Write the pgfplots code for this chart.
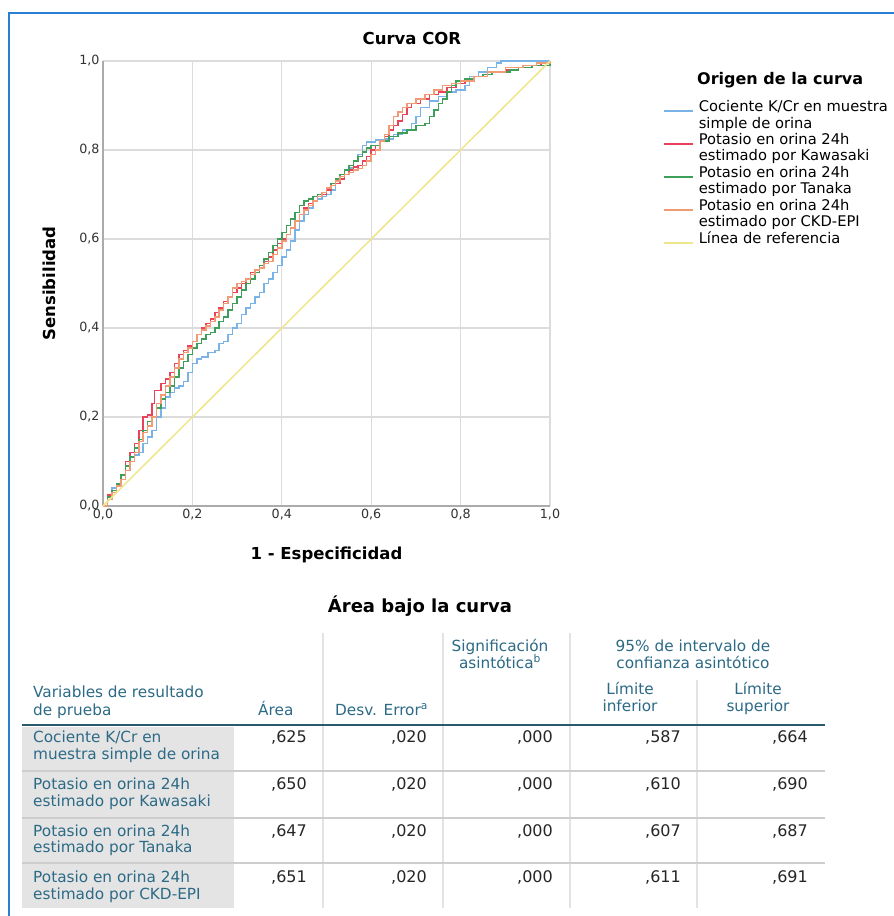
\documentclass[border=0pt]{standalone}
\usepackage{fontspec}
\setmainfont{DejaVu Sans}
\usepackage{pgfplots}
\usepackage{pgfplotstable}
\pgfplotsset{compat=1.18}
\definecolor{cblue}{HTML}{7AB3E8}
\definecolor{cred}{HTML}{E8435A}
\definecolor{cgreen}{HTML}{3E9F5A}
\definecolor{corange}{HTML}{F29A74}
\definecolor{cyellow}{HTML}{EFE68A}
\definecolor{gridgray}{HTML}{DCDCDC}
\definecolor{axgray}{HTML}{ABABAB}
\definecolor{framecol}{HTML}{2A7FD4}
\definecolor{teal}{HTML}{2C6A86}
\definecolor{tline}{HTML}{2A5A6E}
\definecolor{cellgray}{HTML}{E4E4E4}
\definecolor{sepgray}{HTML}{CDCDCD}
\definecolor{vgray}{HTML}{E3E3E3}
\newcommand\fs[2]{\fontsize{#1}{#2}\selectfont}

\pgfplotstableread{
x y
0 0
0.01 0.02
0.02 0.04
0.03 0.05
0.04 0.07
0.05 0.09
0.06 0.10
0.07 0.115
0.08 0.12
0.09 0.14
0.10 0.155
0.11 0.17
0.12 0.20
0.13 0.22
0.14 0.245
0.15 0.255
0.16 0.265
0.17 0.27
0.18 0.28
0.19 0.30
0.20 0.32
0.21 0.33
0.22 0.335
0.235 0.345
0.25 0.35
0.26 0.365
0.27 0.37
0.28 0.385
0.29 0.40
0.30 0.41
0.31 0.43
0.32 0.445
0.33 0.455
0.34 0.47
0.35 0.48
0.36 0.50
0.37 0.51
0.38 0.525
0.39 0.54
0.40 0.56
0.41 0.575
0.42 0.595
0.43 0.62
0.44 0.64
0.45 0.655
0.46 0.67
0.47 0.685
0.48 0.69
0.49 0.695
0.50 0.70
0.51 0.71
0.52 0.725
0.53 0.735
0.54 0.745
0.55 0.76
0.56 0.775
0.57 0.79
0.58 0.81
0.59 0.818
0.61 0.822
0.63 0.825
0.65 0.835
0.67 0.845
0.69 0.86
0.70 0.875
0.71 0.895
0.73 0.91
0.75 0.92
0.77 0.93
0.79 0.935
0.81 0.945
0.82 0.965
0.84 0.975
0.86 0.985
0.88 0.995
0.89 1.0
1.0 1.0
}\blue

\pgfplotstableread{
x y
0 0
0.01 0.025
0.02 0.035
0.03 0.05
0.04 0.07
0.05 0.10
0.06 0.12
0.07 0.14
0.08 0.17
0.09 0.20
0.10 0.205
0.11 0.23
0.115 0.26
0.13 0.275
0.14 0.285
0.15 0.30
0.16 0.32
0.17 0.34
0.18 0.35
0.19 0.36
0.20 0.37
0.21 0.385
0.22 0.40
0.23 0.41
0.24 0.42
0.25 0.435
0.26 0.445
0.27 0.46
0.28 0.47
0.29 0.48
0.30 0.49
0.31 0.50
0.32 0.51
0.33 0.525
0.34 0.53
0.35 0.54
0.36 0.55
0.37 0.56
0.38 0.575
0.39 0.59
0.40 0.60
0.41 0.61
0.42 0.625
0.43 0.64
0.44 0.655
0.45 0.67
0.46 0.68
0.47 0.685
0.48 0.695
0.49 0.70
0.50 0.71
0.51 0.72
0.52 0.725
0.53 0.735
0.54 0.745
0.55 0.755
0.56 0.762
0.57 0.765
0.58 0.775
0.59 0.785
0.60 0.80
0.61 0.81
0.62 0.82
0.63 0.83
0.64 0.845
0.65 0.855
0.66 0.865
0.67 0.88
0.68 0.895
0.69 0.905
0.71 0.915
0.73 0.925
0.75 0.93
0.77 0.94
0.79 0.95
0.81 0.955
0.83 0.965
0.85 0.97
0.87 0.975
0.90 0.98
0.93 0.985
0.96 0.99
0.98 0.995
1.0 1.0
}\red

\pgfplotstableread{
x y
0 0
0.01 0.02
0.02 0.035
0.03 0.05
0.04 0.07
0.05 0.09
0.06 0.11
0.07 0.13
0.08 0.15
0.09 0.17
0.10 0.19
0.11 0.20
0.12 0.22
0.13 0.24
0.14 0.255
0.15 0.27
0.16 0.29
0.17 0.31
0.18 0.325
0.19 0.34
0.20 0.355
0.21 0.365
0.22 0.375
0.23 0.385
0.24 0.39
0.25 0.40
0.26 0.415
0.27 0.425
0.28 0.44
0.29 0.455
0.30 0.47
0.31 0.485
0.32 0.50
0.33 0.51
0.34 0.525
0.35 0.54
0.36 0.555
0.37 0.57
0.38 0.585
0.39 0.60
0.40 0.615
0.41 0.63
0.42 0.645
0.43 0.66
0.44 0.675
0.45 0.685
0.46 0.69
0.47 0.695
0.48 0.70
0.49 0.705
0.50 0.715
0.51 0.725
0.52 0.735
0.53 0.745
0.54 0.755
0.55 0.765
0.56 0.775
0.57 0.785
0.58 0.795
0.59 0.805
0.60 0.81
0.62 0.82
0.64 0.83
0.66 0.838
0.68 0.845
0.70 0.855
0.72 0.86
0.73 0.875
0.74 0.89
0.75 0.905
0.76 0.915
0.77 0.93
0.78 0.945
0.79 0.955
0.81 0.96
0.83 0.965
0.85 0.97
0.87 0.975
0.89 0.975
0.91 0.98
0.93 0.985
0.96 0.99
1.0 1.0
}\green

\pgfplotstableread{
x y
0 0
0.01 0.015
0.02 0.03
0.03 0.045
0.04 0.06
0.05 0.08
0.06 0.10
0.07 0.12
0.08 0.145
0.09 0.165
0.10 0.18
0.11 0.20
0.12 0.23
0.13 0.25
0.14 0.27
0.15 0.29
0.16 0.31
0.17 0.33
0.18 0.345
0.19 0.355
0.20 0.37
0.21 0.385
0.22 0.395
0.23 0.405
0.24 0.415
0.25 0.425
0.26 0.44
0.27 0.455
0.28 0.47
0.29 0.49
0.30 0.50
0.31 0.505
0.32 0.51
0.33 0.52
0.34 0.53
0.35 0.535
0.36 0.545
0.37 0.55
0.38 0.565
0.39 0.58
0.40 0.595
0.41 0.61
0.42 0.625
0.43 0.64
0.44 0.655
0.45 0.665
0.46 0.675
0.47 0.685
0.48 0.695
0.49 0.705
0.50 0.715
0.51 0.72
0.52 0.73
0.53 0.74
0.54 0.745
0.55 0.75
0.56 0.755
0.57 0.758
0.58 0.765
0.59 0.775
0.60 0.79
0.61 0.80
0.62 0.82
0.63 0.835
0.64 0.855
0.65 0.875
0.66 0.885
0.67 0.895
0.68 0.905
0.70 0.915
0.72 0.925
0.74 0.935
0.76 0.945
0.78 0.95
0.80 0.955
0.83 0.965
0.86 0.975
0.90 0.985
0.94 0.99
0.97 0.995
1.0 1.0
}\orange

\begin{document}
\begin{tikzpicture}[x=1pt,y=1pt]
\path[use as bounding box] (0,0) rectangle (894,-916);
\fill[white] (0,0) rectangle (894,-916);
\draw[framecol, line width=2.8] (9,-916) -- (9,-13) -- (894,-13);

\begin{axis}[
  scale only axis, width=447pt, height=445pt,
  at={(103pt,-506pt)}, anchor=south west,
  xmin=0, xmax=1, ymin=0, ymax=1,
  xtick={0,0.2,0.4,0.6,0.8,1}, ytick={0,0.2,0.4,0.6,0.8,1},
  grid=major, grid style={color=gridgray, line width=1.1pt},
  axis lines=left, axis line style={-, color=axgray, line width=1.8pt},
  major tick length=0pt,
  tick label style={font=\fs{12.7}{14}, text=black!80},
  xticklabel style={/pgf/number format/.cd, use comma, fixed, fixed zerofill, precision=1, assume math mode=true},
  yticklabel style={/pgf/number format/.cd, use comma, fixed, fixed zerofill, precision=1, assume math mode=true},
  xlabel={1 - Especificidad}, ylabel={Sensibilidad},
  xlabel style={font=\bfseries\fs{16.5}{18}, at={(axis description cs:0.5,-0.11)}, anchor=center},
  ylabel style={font=\bfseries\fs{16.5}{18}, at={(axis description cs:-0.119,0.5)}, anchor=center},
  title={Curva COR},
  title style={font=\bfseries\fs{16.5}{18}, at={(axis description cs:0.691,1.038)}, anchor=center},
  legend style={at={(axis description cs:1.2528,0.9137)}, anchor=north west, draw=none, fill=none,
    inner sep=0pt, row sep=19.8pt, column sep=5pt, font=\fs{14.7}{16.7},
    nodes={inner sep=0pt}},
  legend cell align=left,
  legend image code/.code={\draw[#1, line width=1.6pt] (0pt,-5pt) -- (29pt,-5pt);},
  clip=false,
]
\addplot[cblue, line width=1.5pt, const plot] table {\blue};
\addlegendentry{\begin{tabular}[t]{@{}l@{}}Cociente K/Cr en muestra\\simple de orina\end{tabular}}
\addplot[cred, line width=1.5pt, const plot] table {\red};
\addlegendentry{\begin{tabular}[t]{@{}l@{}}Potasio en orina 24h\\estimado por Kawasaki\end{tabular}}
\addplot[cgreen, line width=1.5pt, const plot] table {\green};
\addlegendentry{\begin{tabular}[t]{@{}l@{}}Potasio en orina 24h\\estimado por Tanaka\end{tabular}}
\addplot[corange, line width=1.5pt, const plot] table {\orange};
\addlegendentry{\begin{tabular}[t]{@{}l@{}}Potasio en orina 24h\\estimado por CKD-EPI\end{tabular}}
\addplot[cyellow, line width=1.5pt] coordinates {(0,0) (1,1)};
\addlegendentry{\begin{tabular}[t]{@{}l@{}}Línea de referencia\end{tabular}}
\end{axis}

\node[anchor=base west, font=\bfseries\fs{16}{18}, inner sep=0] at (697,-84) {Origen de la curva};

% table
\node[anchor=base, font=\bfseries\fs{18}{20}, inner sep=0] at (420,-612) {Área bajo la curva};
\fill[cellgray] (22,-727) rectangle (234,-908);
\foreach \xx in {323,443,570} {\draw[vgray, line width=1.2] (\xx,-633) -- (\xx,-908);}
\draw[vgray, line width=1.2] (697,-680) -- (697,-908);
\foreach \yy in {771,818,863} {\draw[sepgray, line width=1.2] (22,-\yy) -- (825,-\yy);}
\draw[tline, line width=2] (22,-725) -- (825,-725);

\begin{scope}[every node/.style={inner sep=0, font=\fs{15.3}{17}, text=teal}]
\node[anchor=base west] at (33,-697) {Variables de resultado};
\node[anchor=base west] at (33,-715) {de prueba};
\node[anchor=base west] at (258,-715) {Área};
\node[anchor=base west] at (335,-715) {Desv. Error\textsuperscript{a}};
\node[anchor=base] at (500,-651) {Significación};
\node[anchor=base] at (500,-668) {asintótica\textsuperscript{b}};
\node[anchor=base] at (693,-651) {95\% de intervalo de};
\node[anchor=base] at (693,-668) {confianza asintótico};
\node[anchor=base] at (630,-694) {Límite};
\node[anchor=base] at (630,-711) {inferior};
\node[anchor=base] at (758,-694) {Límite};
\node[anchor=base] at (758,-711) {superior};
\node[anchor=base west] at (33,-742) {Cociente K/Cr en};
\node[anchor=base west] at (33,-759) {muestra simple de orina};
\node[anchor=base west] at (33,-789) {Potasio en orina 24h};
\node[anchor=base west] at (33,-806) {estimado por Kawasaki};
\node[anchor=base west] at (33,-836) {Potasio en orina 24h};
\node[anchor=base west] at (33,-852) {estimado por Tanaka};
\node[anchor=base west] at (33,-882) {Potasio en orina 24h};
\node[anchor=base west] at (33,-899) {estimado por CKD-EPI};
\end{scope}

\begin{scope}[every node/.style={inner sep=0, font=\fs{16}{17}, text=black!85, anchor=base east}]
\node at (307,-742) {,625}; \node at (427,-742) {,020}; \node at (553,-742) {,000}; \node at (681,-742) {,587}; \node at (808,-742) {,664};
\node at (307,-789) {,650}; \node at (427,-789) {,020}; \node at (553,-789) {,000}; \node at (681,-789) {,610}; \node at (808,-789) {,690};
\node at (307,-836) {,647}; \node at (427,-836) {,020}; \node at (553,-836) {,000}; \node at (681,-836) {,607}; \node at (808,-836) {,687};
\node at (307,-882) {,651}; \node at (427,-882) {,020}; \node at (553,-882) {,000}; \node at (681,-882) {,611}; \node at (808,-882) {,691};
\end{scope}
\end{tikzpicture}
\end{document}
